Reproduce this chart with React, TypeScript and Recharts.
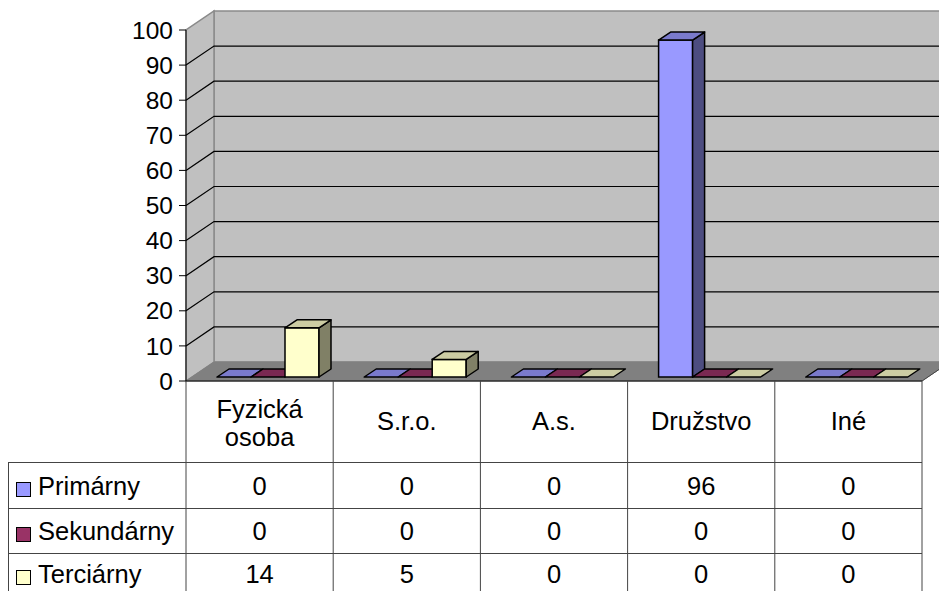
import React from 'react';
import { BarChart, Bar, XAxis, YAxis, CartesianGrid } from 'recharts';

const categories = ['Fyzická osoba', 'S.r.o.', 'A.s.', 'Družstvo', 'Iné'];
const primarny = [0, 0, 0, 96, 0];
const sekundarny = [0, 0, 0, 0, 0];
const terciarny = [14, 5, 0, 0, 0];
const seriesNames = ['Primárny', 'Sekundárny', 'Terciárny'];
const yTicks = [0, 10, 20, 30, 40, 50, 60, 70, 80, 90, 100];

const seriesKeys = ['primarny', 'sekundarny', 'terciarny'];
const seriesValues = [primarny, sekundarny, terciarny];
const seriesColors = ['#9999ff', '#993366', '#ffffcc'];

const chartData = categories.map((name, i) => ({
  name,
  primarny: primarny[i],
  sekundarny: sekundarny[i],
  terciarny: terciarny[i],
}));

// layout
const W = 939;
const H = 591;
const L = 186;
const R = 922;
const T = 30;
const B = 381;
const DX = 28;
const DY = -19;
const FONT = '"Liberation Sans", Arial, sans-serif';

function shade(hex: string, k: number) {
  const n = parseInt(hex.slice(1), 16);
  const r = Math.round(((n >> 16) & 255) * k);
  const g = Math.round(((n >> 8) & 255) * k);
  const b = Math.round((n & 255) * k);
  return `rgb(${r},${g},${b})`;
}

// 3D box: front face, top and right side
function Box3D(props: any) {
  const { x, y, width, height, color } = props;
  const bx = x + 8;
  const by = y - 4;
  const h = Math.max(0, height);
  const ddx = 12;
  const ddy = -8;
  const top = `${bx},${by} ${bx + width},${by} ${bx + width + ddx},${by + ddy} ${bx + ddx},${by + ddy}`;
  const side = `${bx + width},${by} ${bx + width + ddx},${by + ddy} ${bx + width + ddx},${by + h + ddy} ${bx + width},${by + h}`;
  return (
    <g>
      {h > 0 && (
        <>
          <rect x={bx} y={by} width={width} height={h} fill={color} stroke="#000" strokeWidth={1.5} />
          <polygon points={side} fill={shade(color, 0.5)} stroke="#000" strokeWidth={1.5} strokeLinejoin="round" />
        </>
      )}
      <polygon points={top} fill={shade(color, 0.8)} stroke="#000" strokeWidth={1.5} strokeLinejoin="round" />
    </g>
  );
}

const gridLine = (p: any) => {
  const { x1, y1, key } = p;
  if (Math.abs(y1 - B) < 1 || Math.abs(y1 - T) < 1) return <g key={key} />;
  return (
    <polyline
      key={key}
      points={`${x1},${y1} ${x1 + DX},${y1 + DY} ${W + 20},${y1 + DY}`}
      fill="none"
      stroke="#000"
      strokeWidth={1.2}
    />
  );
};

function Walls() {
  return (
    <svg width={W} height={H} style={{ position: 'absolute', left: 0, top: 0 }}>
      <polygon
        points={`${L + DX},${T + DY} ${W + 20},${T + DY} ${W + 20},${B + DY} ${L + DX},${B + DY}`}
        fill="#c0c0c0"
        stroke="#8a8a8a"
        strokeWidth={1.5}
      />
      <polygon
        points={`${L},${B} ${L + DX},${B + DY} ${L + DX},${T + DY} ${L},${T}`}
        fill="#c0c0c0"
        stroke="#8a8a8a"
        strokeWidth={1.5}
      />
      <polygon
        points={`${L},${B} ${R},${B} ${R + DX},${B + DY} ${L + DX},${B + DY}`}
        fill="#808080"
        stroke="#808080"
        strokeWidth={1}
      />
      <line x1={R} y1={B} x2={R + DX} y2={B + DY} stroke="#444" strokeWidth={1} />
    </svg>
  );
}

function DataTable() {
  const colW = (R - L) / categories.length;
  const rowTops = [462, 508, 553];
  const baselines = [495, 540, 583];
  const lineColor = '#444';
  return (
    <svg width={W} height={H} style={{ position: 'absolute', left: 0, top: 0 }}>
      <g fontFamily={FONT} fontSize={25.5} fill="#000">
        {/* header row */}
        <line x1={L} y1={B} x2={R} y2={B} stroke="#000" strokeWidth={1.2} />
        {categories.map((c, i) => {
          const cx = L + colW * (i + 0.5);
          const parts = c.split(' ');
          if (parts.length > 1) {
            return (
              <text key={c} x={cx} textAnchor="middle">
                <tspan x={cx} y={418}>{parts[0]}</tspan>
                <tspan x={cx} y={446}>{parts.slice(1).join(' ')}</tspan>
              </text>
            );
          }
          return (
            <text key={c} x={cx} y={430} textAnchor="middle">
              {c}
            </text>
          );
        })}
        {Array.from({ length: categories.length + 1 }, (_, i) => (
          <line key={'v' + i} x1={L + colW * i} y1={B} x2={L + colW * i} y2={H} stroke={lineColor} strokeWidth={1} />
        ))}
        <line x1={8.5} y1={rowTops[0]} x2={8.5} y2={H} stroke={lineColor} strokeWidth={1} />
        {rowTops.map((ry, r) => (
          <g key={'r' + r}>
            <line x1={8} y1={ry + 0.5} x2={R} y2={ry + 0.5} stroke={lineColor} strokeWidth={1} />
            <rect x={16.5} y={baselines[r] - 12.5} width={14} height={14} fill={seriesColors[r]} stroke="#000" strokeWidth={1} />
            <text x={38} y={baselines[r]}>{seriesNames[r]}</text>
            {seriesValues[r].map((v, i) => (
              <text key={i} x={L + colW * (i + 0.5)} y={baselines[r]} textAnchor="middle">
                {v}
              </text>
            ))}
          </g>
        ))}
      </g>
    </svg>
  );
}

export default function App() {
  return (
    <div style={{ position: 'absolute', left: 0, top: 0, width: W, height: H, background: '#fff' }}>
      <Walls />
      <div style={{ position: 'absolute', left: 0, top: 0 }}>
        <BarChart
          width={W}
          height={H}
          data={chartData}
          margin={{ top: T, right: W - R, bottom: H - B, left: L - 60 }}
          barSize={34}
          barGap={0}
        >
          <CartesianGrid vertical={false} horizontal={gridLine} />
          <XAxis dataKey="name" hide />
          <YAxis
            type="number"
            domain={[0, 100]}
            ticks={yTicks}
            interval={0}
            width={60}
            tickSize={7}
            tickMargin={6}
            axisLine={{ stroke: '#000', strokeWidth: 1 }}
            tickLine={{ stroke: '#000', strokeWidth: 1 }}
            tick={{ fill: '#000', fontSize: 24.5, fontFamily: FONT }}
          />
          {seriesKeys.map((k, i) => (
            <Bar
              key={k}
              dataKey={k}
              isAnimationActive={false}
              shape={(p: any) => <Box3D {...p} color={seriesColors[i]} />}
            />
          ))}
        </BarChart>
      </div>
      <DataTable />
    </div>
  );
}
